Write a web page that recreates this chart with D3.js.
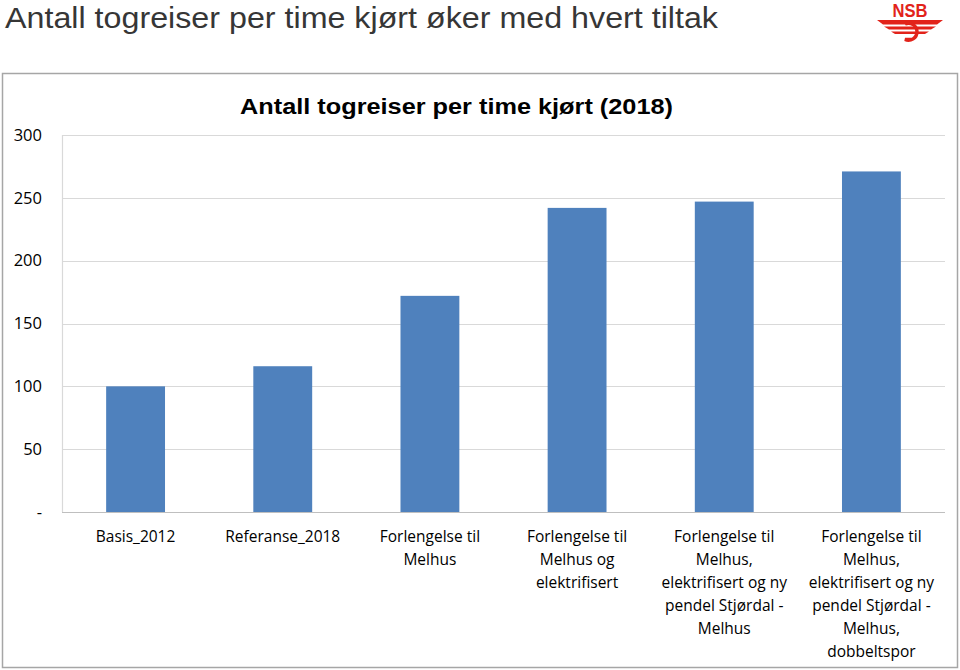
<!DOCTYPE html>
<html><head><meta charset="utf-8">
<script src="https://cdn.jsdelivr.net/npm/d3@7"></script>
<style>body{margin:0;background:#fff}svg{display:block}</style>
</head><body>
<svg id="c" width="960" height="670"></svg>
<script>
const categories = [
  ["Basis_2012"],
  ["Referanse_2018"],
  ["Forlengelse til","Melhus"],
  ["Forlengelse til","Melhus og","elektrifisert"],
  ["Forlengelse til","Melhus,","elektrifisert og ny","pendel Stjørdal -","Melhus"],
  ["Forlengelse til","Melhus,","elektrifisert og ny","pendel Stjørdal -","Melhus,","dobbeltspor"]
];
const values = [100, 116, 172, 242, 247, 271];
const yTicks = [0, 50, 100, 150, 200, 250, 300];
const yTickLabels = ["-", "50", "100", "150", "200", "250", "300"];
const header = "Antall togreiser per time kjørt øker med hvert tiltak";
const chartTitle = "Antall togreiser per time kjørt (2018)";

const svg = d3.select("#c");
// header
svg.append("text").attr("x",5).attr("y",28).attr("font-family","Liberation Sans, Arial, sans-serif")
  .attr("font-size",29).attr("fill","#363636")
  .attr("textLength",713).attr("lengthAdjust","spacingAndGlyphs").text(header);

// NSB logo
const logo = svg.append("g").attr("fill","#e2231a");
logo.append("text").attr("x",910).attr("y",16.5).attr("text-anchor","middle")
  .attr("font-family","Liberation Sans, Arial, sans-serif").attr("font-weight","bold")
  .attr("font-size",18).attr("textLength",35).attr("lengthAdjust","spacingAndGlyphs").text("NSB");
logo.append("path").attr("d","M877,20 L943,20 L937,24.5 L883,24.5 Z");
logo.append("path").attr("d","M884,26.5 L936,26.5 L931,29.5 L889,29.5 Z");
logo.append("path").attr("d","M891,31.5 L929,31.5 L925,34 L895,34 Z");
logo.append("path").attr("fill","none").attr("stroke","#e2231a").attr("stroke-width",3.5)
  .attr("d","M905,24 A8.5,8.5 0 1 1 905,39.5 L912,39.5");

// frame
svg.append("rect").attr("x",2.5).attr("y",73.5).attr("width",955).attr("height",594)
  .attr("fill","#fff").attr("stroke","#a6a6a6").attr("stroke-width",1.5);

const m = {left:62, right:945, top:135, bottom:512};
const x = d3.scaleBand().domain(d3.range(categories.length)).range([m.left,m.right]).paddingInner(0.6).paddingOuter(0.3);
const y = d3.scaleLinear().domain([0,300]).range([m.bottom,m.top]);

svg.append("text").attr("x",240).attr("y",114)
  .attr("font-family","Liberation Sans, Arial, sans-serif").attr("font-weight","bold")
  .attr("font-size",22.5).attr("textLength",433).attr("lengthAdjust","spacingAndGlyphs").text(chartTitle);

// grid
svg.append("g").selectAll("line").data(yTicks).join("line")
  .attr("x1",m.left).attr("x2",m.right).attr("y1",d=>Math.round(y(d))+0.5).attr("y2",d=>Math.round(y(d))+0.5)
  .attr("stroke",d=>d===0?"#bfbfbf":"#d9d9d9").attr("stroke-width",1.2);
svg.append("line").attr("x1",m.left+0.5).attr("x2",m.left+0.5).attr("y1",m.top).attr("y2",m.bottom)
  .attr("stroke","#d9d9d9").attr("stroke-width",1.2);

// y labels
const yAxis = d3.axisLeft(y).tickValues(yTicks).tickSize(0).tickPadding(20)
  .tickFormat((d,i)=>yTickLabels[i]);
const ya = svg.append("g").attr("transform",`translate(${m.left},0)`).call(yAxis);
ya.select(".domain").remove();
ya.selectAll("text").attr("font-family","Open Sans, Lato, sans-serif").attr("font-size",16.5).attr("fill","#000");

// bars
svg.append("g").selectAll("rect").data(values).join("rect")
  .attr("x",(d,i)=>x(i)).attr("width",x.bandwidth())
  .attr("y",d=>y(d)).attr("height",d=>y(0)-y(d)).attr("fill","#4f81bd");

// x labels
const xl = svg.append("g").selectAll("text").data(categories).join("text")
  .attr("x",(d,i)=>x(i)+x.bandwidth()/2).attr("y",542).attr("text-anchor","middle")
  .attr("font-family","Open Sans, Lato, sans-serif").attr("font-size",15.5).attr("fill","#000");
xl.selectAll("tspan").data(d=>d).join("tspan")
  .attr("x",function(){return this.parentNode.getAttribute("x");})
  .attr("dy",(d,i)=>i===0?0:23).text(d=>d);
</script>
</body></html>
